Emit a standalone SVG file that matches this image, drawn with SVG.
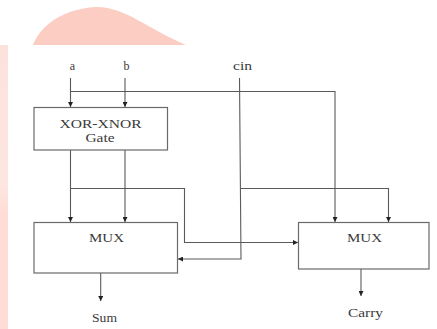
<svg xmlns="http://www.w3.org/2000/svg" width="437" height="329" viewBox="0 0 437 329">
<style>
.box{fill:#fff;stroke:#6a6a6a;stroke-width:1.2}
.wire{fill:none;stroke:#5a5a5a;stroke-width:1.1}
text{font-family:"Liberation Serif","DejaVu Serif","Times New Roman",serif;fill:#3a3a3a;font-size:12px;text-anchor:middle}
</style>
<defs>
<marker id="ah" viewBox="0 0 6 6" refX="6" refY="3" markerWidth="5" markerHeight="5" markerUnits="userSpaceOnUse" orient="auto">
<path d="M0,0 L6,3 L0,6 z" fill="#222"/>
</marker>
<linearGradient id="strip" x1="0" y1="0" x2="0" y2="1">
<stop offset="0" stop-color="#fde2dc"/>
<stop offset="0.5" stop-color="#fde6e0"/>
<stop offset="0.6" stop-color="#ffdcd5"/>
<stop offset="1" stop-color="#ffdcd5"/>
</linearGradient>
</defs>
<rect width="437" height="329" fill="#fff"/>
<g id="background">
<path d="M33,45 C42,22 68,8 97,7 C125,7 150,30 186,45 Z" fill="#fccdc3"/>
<rect x="0" y="45" width="8" height="284" fill="url(#strip)"/>
</g>
<g id="connectors">
<path class="wire" d="M70.5,78 V107" marker-end="url(#ah)"/>
<path class="wire" d="M125,78 V107" marker-end="url(#ah)"/>
<path class="wire" d="M70.5,91.5 H335 V222" marker-end="url(#ah)"/>
<path class="wire" d="M70.5,150 V222" marker-end="url(#ah)"/>
<path class="wire" d="M125,150 V222" marker-end="url(#ah)"/>
<path class="wire" d="M70.5,188.5 H184.5 V242.5 H298" marker-end="url(#ah)"/>
<path class="wire" d="M239.5,78 L241,259 H178" marker-end="url(#ah)"/>
<path class="wire" d="M241,188.5 H388.5 V222" marker-end="url(#ah)"/>
<path class="wire" d="M100.7,273 V301" marker-end="url(#ah)"/>
<path class="wire" d="M361,269 V296" marker-end="url(#ah)"/>
</g>
<g id="xor">
<rect class="box" x="34" y="107.5" width="133.5" height="42.5"/>
<text x="100.5" y="127.5" textLength="82" lengthAdjust="spacingAndGlyphs">XOR-XNOR</text>
<text x="100" y="141.5" textLength="29" lengthAdjust="spacingAndGlyphs">Gate</text>
</g>
<g id="mux1">
<rect class="box" x="34" y="222.5" width="143.5" height="50.5"/>
<text x="106.5" y="241.5" textLength="35" lengthAdjust="spacingAndGlyphs">MUX</text>
</g>
<g id="mux2">
<rect class="box" x="298.5" y="222.5" width="130.5" height="46.5"/>
<text x="364.5" y="241.5" textLength="35" lengthAdjust="spacingAndGlyphs">MUX</text>
</g>
<g id="labels">
<text x="72.5" y="70">a</text>
<text x="126.5" y="70">b</text>
<text x="242.5" y="70" textLength="19" lengthAdjust="spacingAndGlyphs">cin</text>
<text x="104.5" y="322" textLength="25" lengthAdjust="spacingAndGlyphs">Sum</text>
<text x="365.5" y="317" textLength="35" lengthAdjust="spacingAndGlyphs">Carry</text>
</g>
</svg>
